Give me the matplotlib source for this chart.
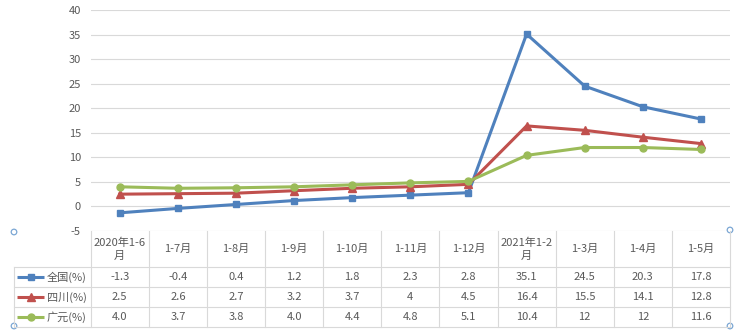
import matplotlib
matplotlib.use("Agg")
import matplotlib.pyplot as plt
from matplotlib.lines import Line2D
from matplotlib.patches import Circle

plt.rcParams['font.family'] = ['Noto Sans CJK SC', 'DejaVu Sans']

# ---- data ----
categories = ["2020年1-6\n月", "1-7月", "1-8月", "1-9月", "1-10月", "1-11月",
              "1-12月", "2021年1-2\n月", "1-3月", "1-4月", "1-5月"]
series_names = ["全国(%)", "四川(%)", "广元(%)"]
quanguo = ["-1.3", "-0.4", "0.4", "1.2", "1.8", "2.3", "2.8", "35.1", "24.5", "20.3", "17.8"]
sichuan = ["2.5", "2.6", "2.7", "3.2", "3.7", "4", "4.5", "16.4", "15.5", "14.1", "12.8"]
guangyuan = ["4.0", "3.7", "3.8", "4.0", "4.4", "4.8", "5.1", "10.4", "12", "12", "11.6"]
y_ticks = [-5, 0, 5, 10, 15, 20, 25, 30, 35, 40]

series_text = [quanguo, sichuan, guangyuan]
colors = ["#4F81BD", "#C0504D", "#9BBB59"]
markers = ["s", "^", "o"]
msizes = [5, 5.5, 5]
text_color = "#595959"
grid_color = "#D9D9D9"
fs = 8

W, H = 741, 332
fig = plt.figure(figsize=(W / 100, H / 100), dpi=100)

# plot area in pixel coordinates
left, right, top, bottom = 90.7, 730.0, 10.0, 231.0
ax = fig.add_axes([left / W, 1 - bottom / H, (right - left) / W, (bottom - top) / H])
ax.set_xlim(-0.5, len(categories) - 0.5)
ax.set_ylim(min(y_ticks), max(y_ticks))
ax.set_yticks(y_ticks)
ax.set_yticklabels([str(t) for t in y_ticks], fontsize=fs, color=text_color)
ax.tick_params(axis='y', length=0, pad=7)
ax.set_xticks([])
ax.grid(axis='y', color=grid_color, lw=0.8)
ax.set_axisbelow(True)
for s in ax.spines.values():
    s.set_visible(False)

xs = list(range(len(categories)))
for txt, c, m, ms in zip(series_text, colors, markers, msizes):
    vals = [float(v) for v in txt]
    ax.plot(xs, vals, color=c, lw=2.2, marker=m, markersize=ms,
            markerfacecolor=c, markeredgecolor=c, solid_joinstyle='round', zorder=3)

# ---- data table beneath the plot ----
tax = fig.add_axes([0, 0, 1, 1])
tax.set_xlim(0, W)
tax.set_ylim(H, 0)
tax.axis('off')

ncol = len(categories)
cw = (right - left) / ncol
col_edges = [left + i * cw for i in range(ncol + 1)]
header_bottom = 267.0
row_h = 20.0
row_edges = [header_bottom + i * row_h for i in range(len(series_names) + 1)]
key_left = 14.0
lw_tab = 0.8

# vertical lines
for x in col_edges:
    tax.plot([x, x], [bottom, row_edges[-1]], color=grid_color, lw=lw_tab)
tax.plot([key_left, key_left], [header_bottom, row_edges[-1]], color=grid_color, lw=lw_tab)
# horizontal lines
for y in row_edges:
    tax.plot([key_left, right], [y, y], color=grid_color, lw=lw_tab)

# header text
for i, cat in enumerate(categories):
    cx = left + (i + 0.5) * cw
    tax.text(cx, (bottom + header_bottom) / 2, cat, ha='center', va='center',
             fontsize=fs, color=text_color, linespacing=1.4)

# rows
for r, (name, txt, c, m, ms) in enumerate(zip(series_names, series_text, colors, markers, msizes)):
    cy = row_edges[r] + row_h / 2
    tax.add_line(Line2D([17, 44], [cy, cy], color=c, lw=2.2, solid_capstyle='butt'))
    tax.add_line(Line2D([30.5], [cy], marker=m, markersize=ms, color=c))
    tax.text(46.5, cy, name, ha='left', va='center', fontsize=fs, color=text_color)
    for i, v in enumerate(txt):
        cx = left + (i + 0.5) * cw
        tax.text(cx, cy, v, ha='center', va='center', fontsize=fs, color=text_color)

# selection handles at chart corners
for hx, hy in [(14, 232), (14, 326), (730, 230), (730, 326)]:
    tax.add_patch(Circle((hx, hy), 2.8, facecolor='white', edgecolor='#7BA7D4', lw=0.9))

fig.savefig("out.png", dpi=100)
